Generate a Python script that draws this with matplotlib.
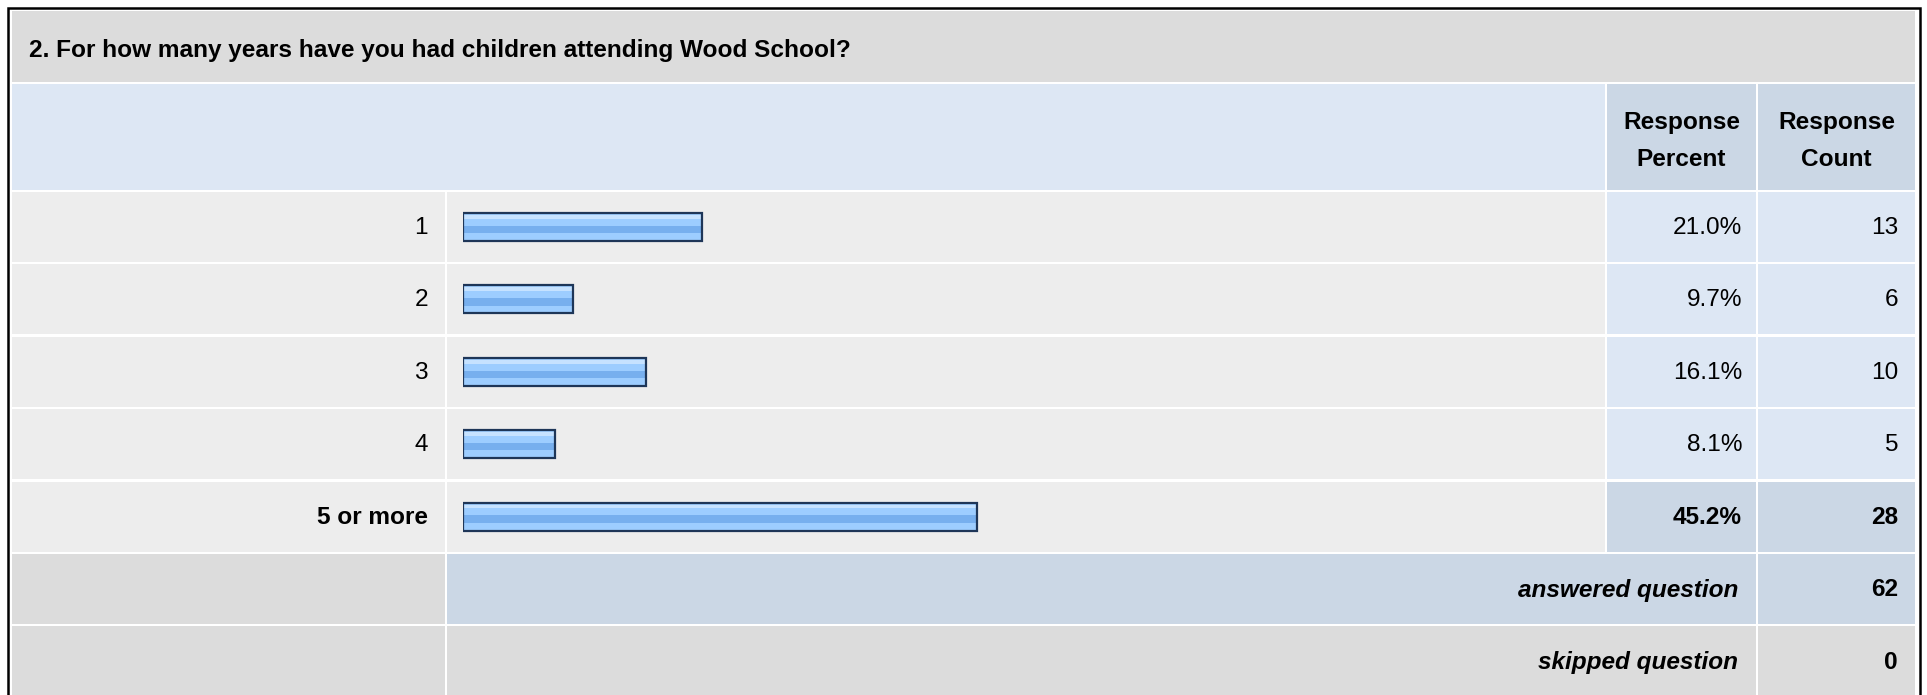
import matplotlib.pyplot as plt
from matplotlib.patches import Rectangle

plt.rcParams['font.family'] = ['Liberation Sans', 'DejaVu Sans']

question = "2. For how many years have you had children attending Wood School?"
answer_options = ["1", "2", "3", "4", "5 or more"]
response_percent = [21.0, 9.7, 16.1, 8.1, 45.2]
response_count = [13, 6, 10, 5, 28]
answered_question = 62
skipped_question = 0

W, H = 1927, 695
fig = plt.figure(figsize=(W / 100, H / 100), dpi=100)
canvas = fig.add_axes([0, 0, 1, 1])
canvas.set_xlim(0, W)
canvas.set_ylim(H, 0)
canvas.axis("off")

# layout in pixels
col_label = (12, 445)
col_bar = (447, 1605)
col_pct = (1607, 1756)
col_cnt = (1758, 1915)
title_y = (11, 82)
header_y = (84, 190)
row0 = 192
pitch = 72.4
gap = 2.4

GRAY = "#dcdcdc"
LIGHT = "#ededed"
BLUE_LT = "#dde7f4"
BLUE_MD = "#cbd7e5"
FS = 17.6


def cell(x, y, color):
    canvas.add_patch(Rectangle((x[0], y[0]), x[1] - x[0], y[1] - y[0],
                               facecolor=color, edgecolor="none"))


# outer frame
canvas.plot([8, 8, 1919.5, 1919.5], [H + 5, 8, 8, H + 5], color="black", lw=1.8,
            solid_joinstyle="miter")

# title band
cell((col_label[0], col_cnt[1]), title_y, GRAY)
canvas.text(29, 50, question, fontsize=FS, fontweight="bold", va="center", ha="left")

# header
cell((col_label[0], col_bar[1]), header_y, BLUE_LT)
cell(col_pct, header_y, BLUE_MD)
cell(col_cnt, header_y, BLUE_MD)
for x, word in [((col_pct[0] + col_pct[1]) / 2, "Percent"), ((col_cnt[0] + col_cnt[1]) / 2, "Count")]:
    canvas.text(x, 123, "Response", fontsize=FS, fontweight="bold", ha="center", va="center")
    canvas.text(x, 159, word, fontsize=FS, fontweight="bold", ha="center", va="center")

top_idx = response_percent.index(max(response_percent))

for i, (opt, pct, cnt) in enumerate(zip(answer_options, response_percent, response_count)):
    y0 = row0 + i * pitch
    ry = (y0, y0 + pitch - gap)
    yc = y0 + (pitch - gap) / 2 + 1
    hi = i == top_idx
    cell(col_label, ry, LIGHT)
    cell(col_bar, ry, LIGHT)
    cell(col_pct, ry, BLUE_MD if hi else BLUE_LT)
    cell(col_cnt, ry, BLUE_MD if hi else BLUE_LT)
    w = "bold" if hi else "normal"
    canvas.text(428, yc, opt, fontsize=FS, fontweight=w, ha="right", va="center")
    canvas.text(1742, yc, f"{pct:.1f}%", fontsize=FS, fontweight=w, ha="right", va="center")
    canvas.text(1898, yc, str(cnt), fontsize=FS, fontweight=w, ha="right", va="center")

# summary rows
n = len(answer_options)
y0 = row0 + n * pitch
ry = (y0, y0 + pitch - gap)
yc = y0 + (pitch - gap) / 2 + 1
cell(col_label, ry, GRAY)
cell((col_bar[0], col_pct[1]), ry, BLUE_MD)
cell(col_cnt, ry, BLUE_MD)
canvas.text(1738, yc, "answered question", fontsize=FS, fontweight="bold", style="italic",
            ha="right", va="center")
canvas.text(1898, yc, str(answered_question), fontsize=FS, fontweight="bold", ha="right", va="center")

y0 = row0 + (n + 1) * pitch
ry = (y0, H + 5)
yc = y0 + (pitch - gap) / 2 + 1
cell(col_label, ry, GRAY)
cell((col_bar[0], col_pct[1]), ry, GRAY)
cell(col_cnt, ry, GRAY)
canvas.text(1738, yc, "skipped question", fontsize=FS, fontweight="bold", style="italic",
            ha="right", va="center")
canvas.text(1898, yc, str(skipped_question), fontsize=FS, fontweight="bold", ha="right", va="center")

# bars: 0..100 % mapped across the bar column
bx0, bx1 = 463, 1601
by0, by1 = row0, row0 + n * pitch
bar_ax = fig.add_axes([bx0 / W, 1 - by1 / H, (bx1 - bx0) / W, (by1 - by0) / H])
bar_ax.set_xlim(0, 100)
bar_ax.set_ylim(n - 0.5 + gap / pitch / 2, -0.5 + gap / pitch / 2)
bar_ax.axis("off")
ypos = list(range(n))
h = 28 / pitch
bar_ax.barh(ypos, response_percent, height=h, color="#9dcdff", edgecolor="none")
bar_ax.barh([y - 0.36 * h for y in ypos], response_percent, height=0.14 * h,
            color="#c6e2ff", edgecolor="none")
bar_ax.barh([y + 0.09 * h for y in ypos], response_percent, height=0.26 * h,
            color="#77afee", edgecolor="none")
bar_ax.barh(ypos, response_percent, height=h, color="none", edgecolor="#1e3658", linewidth=1.6)

fig.savefig("out.png", dpi=100)
